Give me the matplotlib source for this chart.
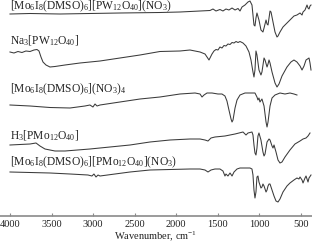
import numpy as np
import matplotlib
matplotlib.use("Agg")
import matplotlib.pyplot as plt

plt.rcParams['font.family'] = ['Liberation Serif', 'DejaVu Serif']
plt.rcParams['mathtext.fontset'] = 'custom'
plt.rcParams['mathtext.rm'] = 'Liberation Serif'
plt.rcParams['mathtext.it'] = 'Liberation Serif:italic'
plt.rcParams['mathtext.bf'] = 'Liberation Serif:bold'

# ---- data (wavenumber, cm^-1 ; relative transmittance) ----
labels = [
    r'[Mo$_6$I$_8$(DMSO)$_6$][PW$_{12}$O$_{40}$](NO$_3$)',
    r'Na$_3$[PW$_{12}$O$_{40}$]',
    r'[Mo$_6$I$_8$(DMSO)$_6$](NO$_3$)$_4$',
    r'H$_3$[PMo$_{12}$O$_{40}$]',
    r'[Mo$_6$I$_8$(DMSO)$_6$][PMo$_{12}$O$_{40}$](NO$_3$)',
]

wn1 = [4000, 3759, 3398, 3038, 2677, 2196, 1955, 1714, 1594, 1558, 1522, 1474, 1438, 1402, 1366,
       1329, 1293, 1257, 1233, 1209, 1173, 1137, 1113, 1089, 1065, 1053, 1041, 1029, 1005, 981,
       957, 944, 920, 908, 896, 884, 872, 860, 836, 812, 788, 776, 752, 716, 668, 632, 584, 548,
       511, 487, 475, 451, 427, 415, 403, 391, 379]
t1 = [0, 0.5, 0, 0.5, 1, 1.5, 2, 3, 3.5, 5, 3, 4.5, 3, 5, 4, 6, 4, 5.5, 3, 7, 9, 12, 13, 9, -11,
      -12, -4, 1, -6, -16, -18, -14, -6, -10, -11, -4, 3, 2, -8, -18, -23, -22, -18, -13, -9, -6,
      -2, -1, 1, -1, 2, 4, 9, 6, 5, 8, 9]

wn2 = [4000, 3952, 3904, 3856, 3808, 3759, 3711, 3675, 3651, 3627, 3603, 3567, 3519, 3459, 3338,
       3158, 2917, 2677, 2436, 2196, 1955, 1835, 1714, 1654, 1606, 1570, 1546, 1522, 1498, 1474,
       1450, 1426, 1402, 1378, 1353, 1329, 1305, 1281, 1257, 1233, 1197, 1161, 1125, 1101, 1077,
       1065, 1053, 1041, 1029, 1005, 981, 969, 944, 932, 908, 896, 884, 872, 848, 812, 788, 764,
       728, 668, 620, 584, 548, 511, 487, 463, 439, 403, 391, 379]
t2 = [0, -1, 0.5, -0.5, 1, 0.5, 2, 2.5, 1, -5, -10, -13, -15, -14.5, -13, -11, -9, -6, -3, 0.5,
      1, 2, 0, -2, -8, -2, 1, 2.5, 2, 5, 4, 6.5, 6, 8, 7.5, 9.5, 9, 10.5, 9.5, 10.5, 9, 6, 0, -8,
      -20, -25, -18, 1, -3, -18, -23, -20, -6, -8, -15, -12, -8, -11, -20, -31, -35, -32, -24,
      -15, -10, -8, -10, -14, -18, -14, -8, -6, -11, -18]

wn3 = [4000, 3759, 3519, 3278, 3098, 3038, 3002, 2977, 2953, 2917, 2677, 2436, 2196, 1955, 1774,
       1714, 1690, 1666, 1630, 1570, 1498, 1450, 1414, 1390, 1366, 1341, 1329, 1317, 1293, 1269,
       1233, 1173, 1113, 1053, 1029, 1017, 1005, 993, 969, 944, 920, 908, 896, 872, 848, 812, 752,
       692, 632, 584, 548]
t3 = [0, -1, -2.5, -3, -1, 0, -2, 1, -1, 0, 3, 6, 8, 11, 12, 11, 8, 10, 12, 12, 11, 11, 9, 4, -5,
      -14, -17, -15, -3, 5, 10, 12, 12, 12, 8, 5, 7, 3, 6, -1, -17, -22, -17, -1, 7, 10, 12, 11,
      12, 11, 10]

wn4 = [4000, 3880, 3759, 3687, 3639, 3579, 3459, 3338, 3038, 2797, 2556, 2316, 2075, 1835, 1714,
       1654, 1618, 1582, 1534, 1414, 1293, 1197, 1161, 1137, 1089, 1077, 1065, 1053, 1041, 1029,
       1017, 1005, 981, 957, 944, 932, 908, 884, 872, 848, 836, 824, 800, 776, 752, 728, 692, 632,
       572, 511, 475, 439, 415, 391]
t4 = [0, 0.5, 1, 2, -1, -4, -6, -6, -4, -2, 0, 3, 5, 6, 6, 5, 4, 7, 8, 9, 11, 13, 10, 12, 13, 10,
      0, -8, -10, -3, 9, 12, 5, -7, -11, -9, 3, 6, 5, -1, -3, 0, -7, -15, -18, -17, -12, -5, 1, 4,
      6, 7, 9, 12]

wn5 = [4000, 3759, 3519, 3278, 3062, 3014, 2990, 2965, 2941, 2917, 2737, 2556, 2316, 2075, 1835,
       1714, 1654, 1618, 1582, 1534, 1474, 1438, 1414, 1402, 1378, 1353, 1329, 1305, 1269, 1233,
       1173, 1113, 1089, 1077, 1065, 1053, 1041, 1029, 1017, 1005, 981, 969, 957, 944, 920, 908,
       896, 884, 872, 848, 824, 800, 776, 752, 716, 668, 632, 584, 548, 524, 511, 487, 475, 451,
       439, 427, 415, 403, 379]
t5 = [0, -0.5, -1, -2, -3, -4, -2, -5, -3, -4, -2, 0, 2, 2.5, 3, 3, 2, 0, 2, 3, 3, 1, -4, -2, -4,
      -1, -4, 0, 3, 4, 4, 4, 3, -3, -18, -26, -20, -5, -4, -10, -16, -15, -12, -14, -20, -18, -14,
      -12, -12, -18, -24, -29, -30, -27, -20, -14, -11, -8, -6, -7, -5, -8, -11, -6, -4, -7, -10,
      -6, -3]

tick_vals = [4000, 3500, 3000, 2500, 2000, 1500, 1000, 500]

# ---- figure ----
fig = plt.figure(figsize=(3.12, 2.42), dpi=100)
ax = fig.add_axes([0.0, 26 / 242, 1.0, 216 / 242])

offsets = [202, 164, 111, 71, 44]
label_y = [209.5, 175, 127, 80, 54]
series = [(wn1, t1), (wn2, t2), (wn3, t3), (wn4, t4), (wn5, t5)]
line_color = '#3a3a3a'
for (w, t), off, lab, ly in zip(series, offsets, labels, label_y):
    ax.plot(w, off + np.array(t), color=line_color, lw=0.75)
    ax.text(3995, ly, lab, fontsize=8.3, color='#222222', ha='left', va='center')

ax.set_xlim(4120, 367)
ax.set_ylim(0, 216)
for s in ['left', 'right', 'top']:
    ax.spines[s].set_visible(False)
ax.spines['bottom'].set_color('#8a8a8a')
ax.spines['bottom'].set_linewidth(1.2)
ax.set_yticks([])
ax.set_xticks(tick_vals)
ax.set_xticklabels([str(v) for v in tick_vals])
ax.tick_params(axis='x', direction='in', length=2.5, width=0.8, color='#8a8a8a',
               labelsize=7.5, labelcolor='#222222', pad=3)
ax.set_xlabel(r'Wavenumber, cm$^{-1}$', fontsize=7.5, color='#222222', labelpad=0)

fig.savefig('out.png', dpi=100)
